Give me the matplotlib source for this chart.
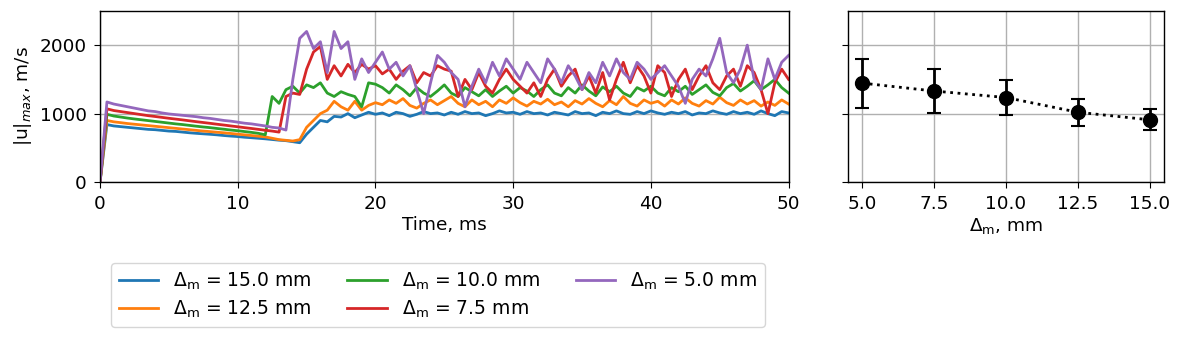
import numpy as np
import matplotlib
matplotlib.use("Agg")
import matplotlib.pyplot as plt

plt.rcParams['font.size'] = 13.3
plt.rcParams['axes.linewidth'] = 1.0
plt.rcParams['xtick.major.pad'] = 5
plt.rcParams['ytick.major.pad'] = 5
plt.rcParams['xtick.major.size'] = 4.5
plt.rcParams['ytick.major.size'] = 4.5

# time samples, ms
t = np.arange(0, 50.01, 0.5)

u_15 = [0, 840, 820, 810, 800, 790, 780, 770, 765, 755, 745, 740, 730, 720, 712, 705, 698, 690, 680, 672,
        665, 655, 648, 640, 632, 622, 612, 605, 590, 575, 700, 800, 900, 880, 960, 950, 1000, 940, 980, 1020,
        990, 1010, 970, 1020, 1000, 960, 990, 1030, 1000, 1010, 980, 1020, 990, 1030, 1000, 1010, 970, 1000, 1040, 1010,
        1020, 990, 1030, 1000, 1010, 980, 1020, 1000, 980, 1030, 1000, 1010, 970, 1020, 1000, 1040, 1000, 990, 1030, 1000,
        1040, 1010, 990, 1020, 1000, 1030, 980, 1010, 1000, 1040, 1010, 990, 1030, 1000, 1020, 990, 1040, 1000, 970, 1030,
        1010]
u_125 = [0, 900, 880, 868, 855, 845, 835, 825, 815, 805, 795, 785, 775, 765, 755, 745, 737, 728, 720, 710,
         700, 690, 680, 670, 660, 640, 620, 610, 600, 620, 800, 900, 1000, 1050, 1180, 1100, 1050, 1180, 1050, 1120,
         1160, 1130, 1200, 1150, 1220, 1120, 1080, 1150, 1200, 1130, 1190, 1250, 1150, 1100, 1200, 1130, 1180, 1100, 1200, 1150,
         1230, 1160, 1110, 1180, 1140, 1210, 1130, 1170, 1100, 1190, 1140, 1220, 1150, 1100, 1190, 1130, 1250, 1150, 1110, 1200,
         1150, 1180, 1110, 1200, 1140, 1230, 1150, 1110, 1190, 1140, 1240, 1160, 1120, 1200, 1140, 1190, 1110, 1170, 1120, 1200,
         1140]
u_10 = [0, 990, 965, 950, 935, 922, 910, 898, 886, 874, 862, 850, 840, 828, 816, 805, 795, 783, 772, 760,
        750, 738, 726, 712, 690, 1250, 1150, 1350, 1400, 1300, 1420, 1380, 1450, 1300, 1250, 1320, 1280, 1250, 1100, 1450,
        1430, 1380, 1300, 1420, 1350, 1260, 1380, 1300, 1250, 1330, 1420, 1300, 1250, 1380, 1320, 1260, 1350, 1250, 1330, 1400,
        1300, 1380, 1330, 1250, 1350, 1420, 1300, 1260, 1380, 1300, 1420, 1330, 1260, 1390, 1320, 1400, 1300, 1250, 1380, 1330,
        1400, 1300, 1260, 1380, 1320, 1400, 1280, 1350, 1420, 1310, 1260, 1380, 1440, 1330, 1400, 1480, 1350, 1420, 1500, 1380,
        1300]
u_75 = [0, 1070, 1045, 1030, 1015, 1000, 985, 970, 958, 945, 932, 920, 908, 895, 882, 870, 858, 845, 833, 820,
        808, 795, 783, 770, 757, 745, 730, 1250, 1300, 1280, 1650, 1900, 1980, 1500, 1700, 1550, 1720, 1600, 1720, 1650,
        1700, 1580, 1650, 1500, 1620, 1700, 1450, 1600, 1550, 1700, 1650, 1620, 1250, 1500, 1350, 1600, 1400, 1300, 1500, 1650,
        1500, 1400, 1300, 1450, 1250, 1500, 1650, 1400, 1550, 1650, 1350, 1550, 1300, 1600, 1200, 1500, 1750, 1450, 1700, 1550,
        1300, 1700, 1600, 1250, 1500, 1650, 1350, 1550, 1700, 1450, 1350, 1550, 1650, 1400, 1700, 1600, 1350, 1000, 1450, 1650,
        1500]
u_5 = [0, 1170, 1140, 1120, 1100, 1080, 1060, 1040, 1030, 1010, 995, 985, 975, 965, 955, 940, 930, 915, 900, 890,
       875, 860, 850, 835, 820, 800, 790, 760, 1500, 2100, 2200, 1950, 2050, 1600, 2200, 1950, 2050, 1500, 1800, 1600,
       1750, 1900, 1650, 1750, 1550, 1700, 1350, 1000, 1450, 1850, 1750, 1600, 1500, 1100, 1400, 1650, 1450, 1750, 1550, 1800,
       1650, 1500, 1750, 1600, 1450, 1800, 1650, 1450, 1700, 1550, 1350, 1600, 1450, 1750, 1550, 1800, 1600, 1500, 1750, 1650,
       1500, 1600, 1700, 1550, 1400, 1150, 1500, 1650, 1550, 1800, 2100, 1600, 1450, 1650, 2000, 1500, 1350, 1800, 1500, 1750,
       1850]

series = [(u_15, '15.0'), (u_125, '12.5'), (u_10, '10.0'), (u_75, '7.5'), (u_5, '5.0')]

delta = [5.0, 7.5, 10.0, 12.5, 15.0]
u_mean = [1445, 1330, 1235, 1020, 910]
u_err = [360, 320, 250, 200, 155]

fig = plt.figure(figsize=(11.77, 3.41), dpi=100)
ax1 = fig.add_axes([0.085, 0.466, 0.585, 0.502])
ax2 = fig.add_axes([0.7205, 0.466, 0.2685, 0.502], sharey=ax1)

for vals, lab in series:
    ax1.plot(t, vals, lw=2, label=r'$\Delta_\mathrm{m}$ = ' + lab + ' mm')
ax1.set_xlim(0, 50)
ax1.set_ylim(0, 2500)
ax1.set_yticks([0, 1000, 2000])
ax1.set_xlabel('Time, ms', labelpad=2)
ax1.set_ylabel(r'|u|$_{max}$, m/s')
ax1.grid(True, color='#b0b0b0', lw=1)

ax2.errorbar(delta, u_mean, yerr=u_err, fmt='o', color='black', ms=10,
             capsize=5, elinewidth=2, capthick=1.5, ls=':', lw=2)
ax2.set_xticks([5.0, 7.5, 10.0, 12.5, 15.0])
ax2.set_xlabel(r'$\Delta_\mathrm{m}$, mm', labelpad=2)
ax2.tick_params(labelleft=False)
ax2.grid(True, color='#b0b0b0', lw=1)

fig.legend(*ax1.get_legend_handles_labels(), ncol=3, loc='upper left',
           bbox_to_anchor=(111 / 1177, 1 - 263 / 341), bbox_transform=fig.transFigure,
           fontsize=13.5, columnspacing=1.9, handlelength=2.1, borderaxespad=0.0,
           labelspacing=0.35)

fig.savefig('out.png', dpi=100)
